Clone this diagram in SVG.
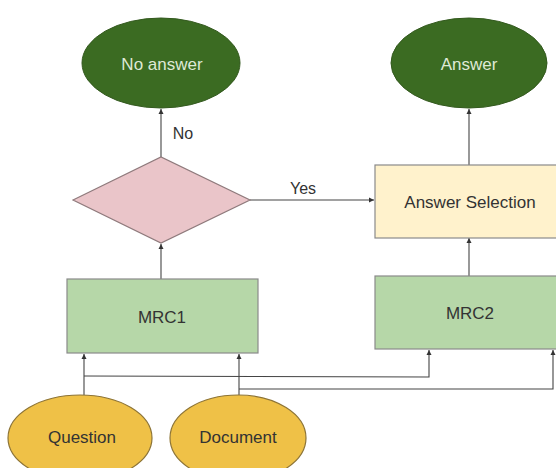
<svg xmlns="http://www.w3.org/2000/svg" width="556" height="468" viewBox="0 0 556 468">
<defs>
<marker id="arr" markerWidth="6" markerHeight="6" refX="5" refY="3" orient="auto" markerUnits="userSpaceOnUse">
<path d="M0,0.5 L5,3 L0,5.5 Z" fill="#333"/>
</marker>
<style>
.t{font-family:"Liberation Sans",Arial,sans-serif;font-size:17px;text-anchor:middle;dominant-baseline:central}
.dark{fill:#3b6b22;stroke:#33591e;stroke-width:1}
.lt{fill:#dfe9d6}
.dk{fill:#333}
.mrc{fill:#b6d7a8;stroke:#8a8a8a;stroke-width:1.2}
.sel{fill:#fff2cc;stroke:#8a8a8a;stroke-width:1.2}
.dia{fill:#eac5c9;stroke:#8f7a7c;stroke-width:1.2}
.inp{fill:#efc147;stroke:#8d7436;stroke-width:1.2}
.c{fill:none;stroke:#444;stroke-width:1.1;marker-end:url(#arr)}
</style>
</defs>
<rect width="556" height="468" fill="#ffffff"/>
<g id="connectors">
<path class="c" d="M161,157 L161,109"/>
<path class="c" d="M250,200 L374,200"/>
<path class="c" d="M469,165 L469,109"/>
<path class="c" d="M161,279 L161,244"/>
<path class="c" d="M469,276 L469,238"/>
<path class="c" d="M84,395 L84,354"/>
<path class="c" d="M239,395 L239,354"/>
<path class="c" d="M84,376 L429,377 L429,350"/>
<path class="c" d="M239,389 L553,389 L553,350"/>
<text class="t dk" x="183" y="133" style="font-size:16px">No</text>
<text class="t dk" x="303" y="188" style="font-size:16px">Yes</text>
</g>
<g id="no-answer">
<ellipse class="dark" cx="161" cy="63" rx="79" ry="45"/>
<text class="t lt" x="162" y="64">No answer</text>
</g>
<g id="answer">
<ellipse class="dark" cx="469" cy="63" rx="78" ry="45"/>
<text class="t lt" x="469" y="64">Answer</text>
</g>
<g id="decision">
<polygon class="dia" points="73,200 161,157 250,200 161,243"/>
</g>
<g id="answer-selection">
<rect class="sel" x="375" y="165" width="190" height="73"/>
<text class="t dk" x="470" y="202">Answer Selection</text>
</g>
<g id="mrc1">
<rect class="mrc" x="67" y="279" width="191" height="74"/>
<text class="t dk" x="162" y="317">MRC1</text>
</g>
<g id="mrc2">
<rect class="mrc" x="375" y="276" width="190" height="73"/>
<text class="t dk" x="470" y="313">MRC2</text>
</g>
<g id="question">
<ellipse class="inp" cx="80" cy="438" rx="72" ry="43"/>
<text class="t dk" x="82" y="437">Question</text>
</g>
<g id="document">
<ellipse class="inp" cx="238" cy="438" rx="68" ry="43"/>
<text class="t dk" x="238" y="437">Document</text>
</g>
</svg>
